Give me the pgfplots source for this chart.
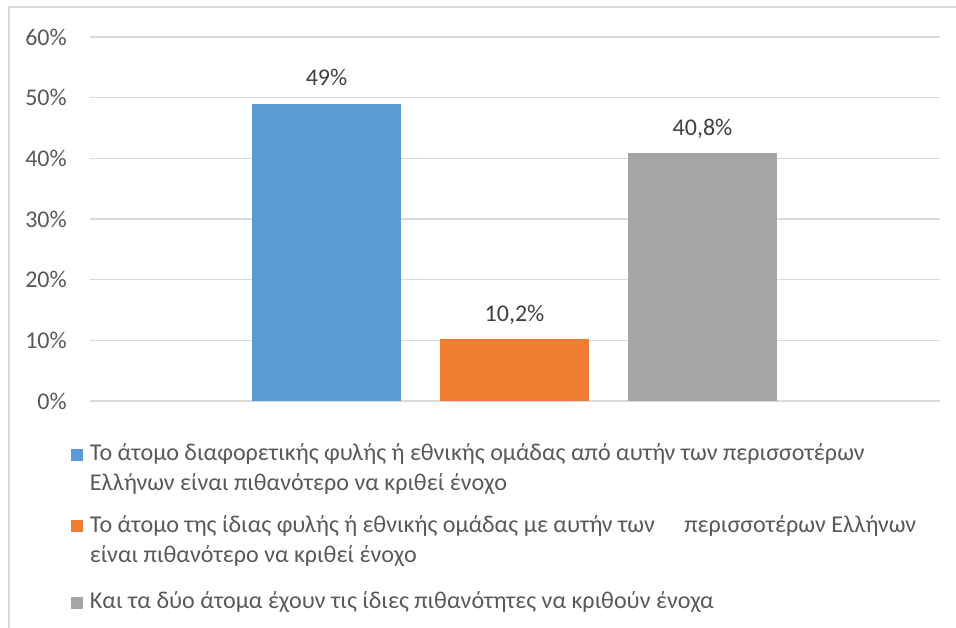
\documentclass[border=0pt]{standalone}
\usepackage{pgfplots}
\pgfplotsset{compat=1.18}
\usepackage{fontspec}
\setmainfont{Carlito}

\definecolor{cblue}{HTML}{5B9BD5}
\definecolor{corange}{HTML}{ED7D31}
\definecolor{cgray}{HTML}{A5A5A5}
\definecolor{gridc}{HTML}{D9D9D9}
\definecolor{txt}{HTML}{595959}
\definecolor{lbl}{HTML}{404040}

% square legend markers sitting on a baseline
\pgfplotsset{ybar legend/.style={/pgfplots/legend image code/.code={\fill[##1] (0pt,0pt) rectangle (12pt,12pt);}}}
\newcommand\st{\rule[-8pt]{0pt}{30pt}}
\newcommand\fs{\fontsize{24}{30}\selectfont}
\newcommand\fl{\fontsize{24.1}{30}\selectfont}

\begin{document}
\begin{tikzpicture}[x=1pt,y=1pt]
\path[use as bounding box] (0,0) rectangle (956,628);
\draw[gridc, line width=1.3pt] (9,0) -- (9,621) -- (956,621);
\begin{axis}[
  at={(90pt,227pt)}, anchor=south west,
  scale only axis, width=850pt, height=364pt,
  xmin=-2.258, xmax=2.263, ymin=0, ymax=60,
  ybar, bar width=0.793, bar shift=0pt,
  axis line style={draw=none},
  xtick=\empty,
  ytick={0,10,...,60},
  ymajorgrids, grid style={gridc, line width=1.3pt},
  major tick length=0pt,
  /pgf/number format/assume math mode=true,
  yticklabel={\pgfmathprintnumber{\tick}\%},
  yticklabel style={font=\fs, text=txt, anchor=east, inner sep=0pt, xshift=-23pt},
  nodes near coords={\pgfmathprintnumber[use comma]{\pgfplotspointmeta}\%},
  nodes near coords style={font=\fs, text=lbl, anchor=base, inner sep=0pt, yshift=18pt},
  legend style={at={(axis description cs:-0.0224,-0.1044)}, anchor=north west,
    draw=none, fill=none, inner sep=0pt, outer sep=0pt,
    row sep=18pt, column sep=7pt,
    nodes={inner sep=0pt, font=\fl, text=txt},
    cells={anchor=base west}},
]
\addplot[fill=cblue, draw=none, legend image post style={yshift=30pt}] coordinates {(-1,49)};
\addlegendentry{\parbox[b]{840pt}{\st Το άτομο διαφορετικής φυλής ή εθνικής ομάδας από αυτήν των περισσοτέρων\\\st Ελλήνων είναι πιθανότερο να κριθεί ένοχο}}
\addplot[fill=corange, draw=none, legend image post style={yshift=30pt}] coordinates {(0,10.2)};
\addlegendentry{\parbox[b]{840pt}{\st Το άτομο της ίδιας φυλής ή εθνικής ομάδας με αυτήν των\hspace{24pt} περισσοτέρων Ελλήνων\\\st είναι πιθανότερο να κριθεί ένοχο}}
\addplot[fill=cgray, draw=none] coordinates {(1,40.8)};
\addlegendentry{\parbox[b]{840pt}{\rule[-8pt]{0pt}{35pt}Και τα δύο άτομα έχουν τις ίδιες πιθανότητες να κριθούν ένοχα}}
\end{axis}
\end{tikzpicture}
\end{document}
